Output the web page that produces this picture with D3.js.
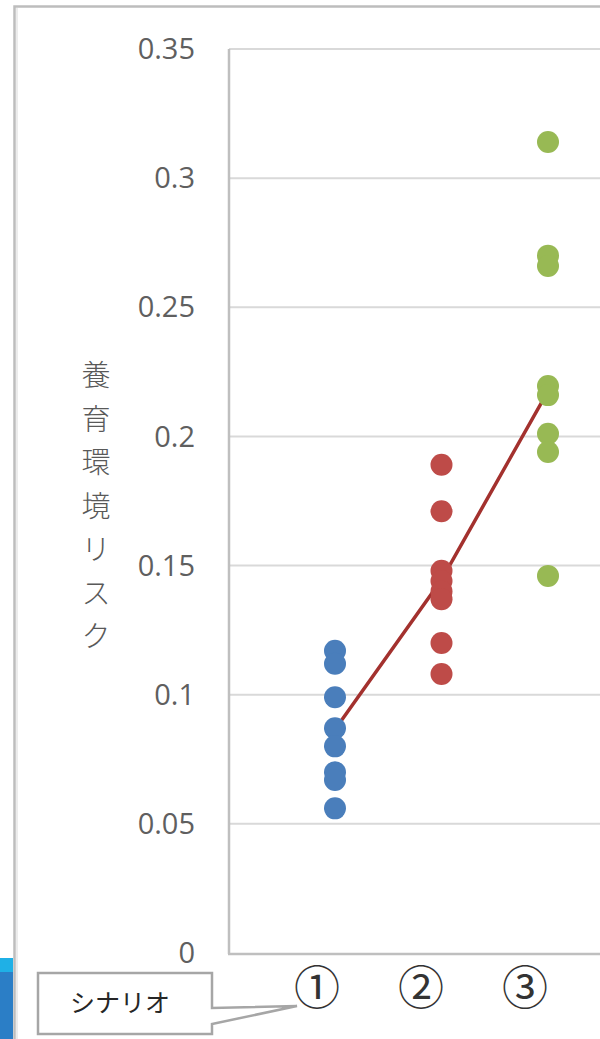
<!DOCTYPE html>
<html><head><meta charset="utf-8">
<script src="https://cdn.jsdelivr.net/npm/d3@7"></script>
<style>html,body{margin:0;padding:0;background:#fff;}svg{display:block;}</style>
</head><body>
<script>
const categories = ["①", "②", "③"];
const scenario1 = [0.117, 0.112, 0.099, 0.087, 0.080, 0.070, 0.067, 0.056];
const scenario2 = [0.189, 0.171, 0.148, 0.144, 0.140, 0.137, 0.120, 0.108];
const scenario3 = [0.314, 0.270, 0.266, 0.2195, 0.216, 0.201, 0.194, 0.146];
const trendValues = [0.0865, 0.1445, 0.2175];
const yTicks = [0, 0.05, 0.1, 0.15, 0.2, 0.25, 0.3, 0.35];
const yTickLabels = ["0", "0.05", "0.1", "0.15", "0.2", "0.25", "0.3", "0.35"];
const yTitle = "養育環境リスク";
const calloutText = "シナリオ";
const seriesColors = ["#4A7EBB", "#BE4B48", "#98B954"];

const W = 600, H = 1039;
const svg = d3.select("body").append("svg").attr("width", W).attr("height", H);

// outer frame & left stripe
svg.append("rect").attr("x", 0).attr("y", 958).attr("width", 13).attr("height", 81).attr("fill", "#2B7EC6");
svg.append("rect").attr("x", 0).attr("y", 958).attr("width", 13).attr("height", 14).attr("fill", "#1FB0E6");
svg.append("rect").attr("x", 14.5).attr("y", 6.5).attr("width", 700).attr("height", 1100)
  .attr("fill", "none").attr("stroke", "#bdbdbd").attr("stroke-width", 2.5);
svg.append("line").attr("x1", 17).attr("x2", 17).attr("y1", 8).attr("y2", H).attr("stroke", "#ececec").attr("stroke-width", 2);

const y = d3.scaleLinear().domain([0, 0.35]).range([953, 49]);
const x = d3.scalePoint().domain(categories).range([335, 548]);
const xLabel = d3.scalePoint().domain(categories).range([317, 525]);
const plotLeft = 229, plotRight = 700;

// gridlines
svg.append("g").selectAll("line").data(yTicks.filter(d => d > 0)).join("line")
  .attr("x1", plotLeft).attr("x2", plotRight)
  .attr("y1", d => y(d)).attr("y2", d => y(d))
  .attr("stroke", "#d9d9d9").attr("stroke-width", 2);

// axes lines
svg.append("line").attr("x1", plotLeft).attr("x2", plotLeft).attr("y1", y(0.35)).attr("y2", y(0) + 1)
  .attr("stroke", "#bfbfbf").attr("stroke-width", 2.5);
svg.append("line").attr("x1", plotLeft - 1).attr("x2", plotRight).attr("y1", y(0) + 1).attr("y2", y(0) + 1)
  .attr("stroke", "#bfbfbf").attr("stroke-width", 2.5);

// y tick labels
svg.append("g").selectAll("text").data(yTicks).join("text")
  .attr("x", 195).attr("y", d => y(d)).attr("dy", "0.35em")
  .attr("text-anchor", "end")
  .attr("font-family", "'Open Sans', 'Noto Sans', sans-serif").attr("font-size", 29)
  .attr("fill", "#5f5f5f")
  .text((d, i) => yTickLabels[i]);

// y title (vertical, char by char)
const yt = svg.append("text").attr("font-family", "'Noto Sans CJK JP', sans-serif")
  .attr("font-size", 29).attr("font-weight", 300).attr("fill", "#595959").attr("text-anchor", "middle");
Array.from(yTitle).forEach((c, i) => {
  yt.append("tspan").attr("x", 96).attr("y", 386 + i * 43.5).text(c);
});

// trend line
const line = d3.line().x((d, i) => x(categories[i])).y(d => y(d));
svg.append("path").datum(trendValues).attr("d", line)
  .attr("fill", "none").attr("stroke", "#A3312E").attr("stroke-width", 3.5);

// points
const series = [scenario1, scenario2, scenario3];
series.forEach((vals, si) => {
  svg.append("g").selectAll("circle").data(vals).join("circle")
    .attr("cx", x(categories[si])).attr("cy", d => y(d)).attr("r", 11)
    .attr("fill", seriesColors[si]);
});

// category labels
svg.append("g").selectAll("text").data(categories).join("text")
  .attr("x", d => xLabel(d)).attr("y", 987).attr("dy", "0.36em")
  .attr("text-anchor", "middle")
  .attr("font-family", "'Noto Sans CJK JP', sans-serif").attr("font-size", 46)
  .attr("fill", "#333").text(d => d);

// callout
const cw = svg.append("g");
cw.append("path")
  .attr("d", "M38,973 H212 V1008 L297,1006 L212,1024 V1034 H38 Z")
  .attr("fill", "#fff").attr("stroke", "#a6a6a6").attr("stroke-width", 2.5).attr("stroke-linejoin", "miter");
cw.append("text").attr("x", 120).attr("y", 1003).attr("dy", "0.36em").attr("text-anchor", "middle")
  .attr("font-family", "'Noto Sans CJK JP', sans-serif").attr("font-size", 25)
  .attr("fill", "#262626").text(calloutText);
</script>
</body></html>
